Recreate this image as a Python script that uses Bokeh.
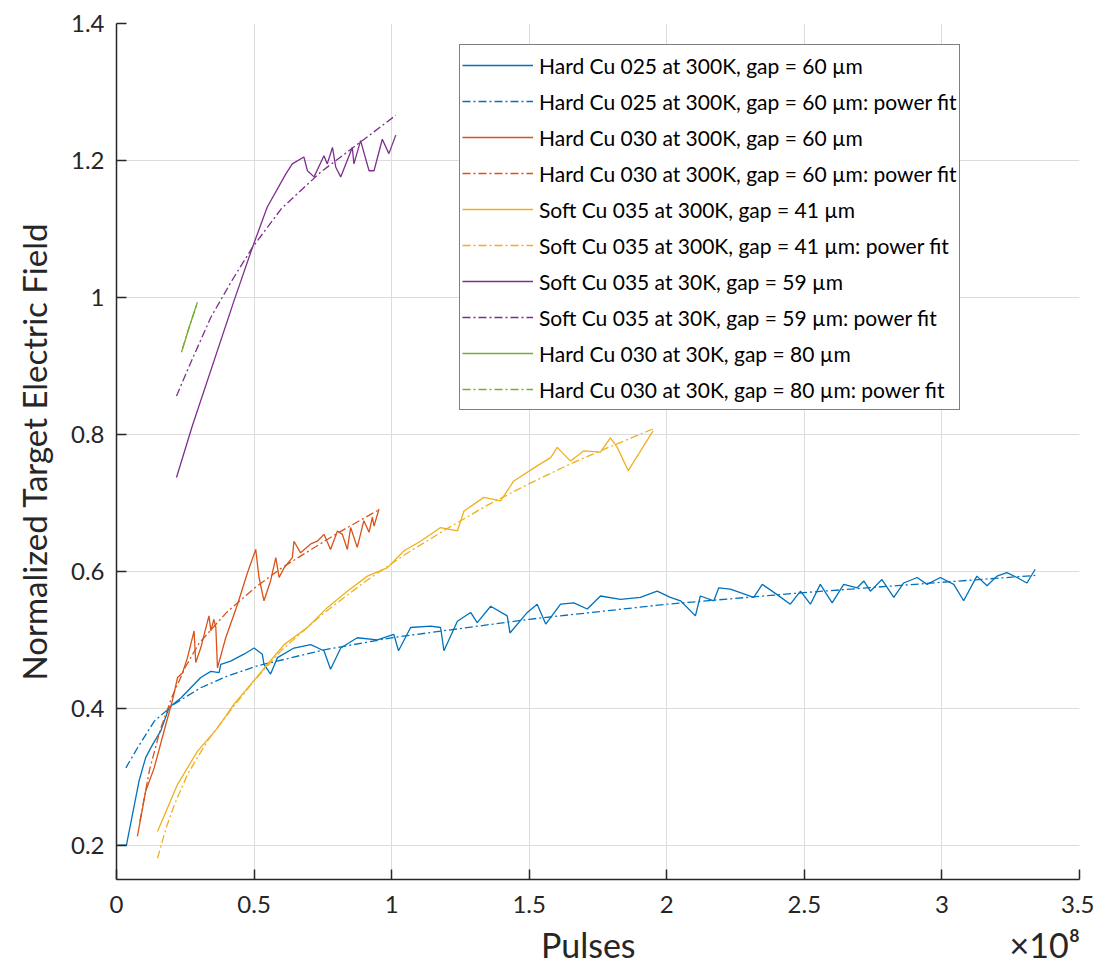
import numpy as np
from bokeh.plotting import figure
from bokeh.models import FixedTicker, CustomJSTickFormatter, Range1d
from bokeh.embed import file_html
from bokeh.resources import INLINE

# ---------------- data (x in units of 1e8 pulses) ----------------
hc025_x = [0.004, 0.036, 0.082, 0.106, 0.131, 0.161, 0.191, 0.234, 0.270, 0.306, 0.343, 0.373, 0.379,
           0.415, 0.463, 0.500, 0.530, 0.536, 0.560, 0.585, 0.645, 0.706, 0.754, 0.778, 0.815, 0.875,
           0.948, 1.008, 1.025, 1.069, 1.142, 1.178, 1.190, 1.239, 1.287, 1.311, 1.360, 1.420, 1.430,
           1.493, 1.529, 1.560, 1.614, 1.662, 1.711, 1.759, 1.832, 1.904, 1.965, 2.013, 2.050, 2.104,
           2.122, 2.171, 2.189, 2.231, 2.316, 2.347, 2.401, 2.449, 2.486, 2.522, 2.558, 2.601, 2.643,
           2.692, 2.716, 2.740, 2.782, 2.825, 2.861, 2.910, 2.946, 2.994, 3.043, 3.079, 3.127, 3.164,
           3.200, 3.236, 3.273, 3.309, 3.339]
hc025_y = [0.200, 0.200, 0.294, 0.328, 0.347, 0.367, 0.401, 0.415, 0.430, 0.445, 0.454, 0.452, 0.464,
           0.469, 0.479, 0.488, 0.479, 0.464, 0.450, 0.474, 0.488, 0.493, 0.484, 0.457, 0.488, 0.503,
           0.500, 0.508, 0.484, 0.518, 0.520, 0.518, 0.484, 0.527, 0.540, 0.525, 0.549, 0.535, 0.510,
           0.540, 0.552, 0.523, 0.552, 0.554, 0.545, 0.564, 0.559, 0.562, 0.571, 0.562, 0.557, 0.535,
           0.564, 0.557, 0.576, 0.574, 0.562, 0.581, 0.566, 0.552, 0.571, 0.552, 0.581, 0.554, 0.581,
           0.576, 0.586, 0.571, 0.588, 0.562, 0.583, 0.591, 0.581, 0.591, 0.581, 0.557, 0.593, 0.579,
           0.593, 0.598, 0.591, 0.583, 0.603]
hc025_fit_x = [0.034, 0.076, 0.137, 0.209, 0.306, 0.403, 0.512, 0.750, 1.000, 1.500, 2.000, 2.500, 3.000, 3.339]
hc025_fit_y = [0.313, 0.342, 0.381, 0.406, 0.430, 0.447, 0.462, 0.485, 0.503, 0.530, 0.552, 0.569, 0.584, 0.594]

hc030_x = [0.076, 0.106, 0.137, 0.179, 0.203, 0.222, 0.240, 0.258, 0.282, 0.288, 0.306, 0.336, 0.343,
           0.354, 0.361, 0.367, 0.397, 0.440, 0.476, 0.506, 0.518, 0.536, 0.560, 0.579, 0.591, 0.609,
           0.639, 0.645, 0.669, 0.706, 0.730, 0.754, 0.778, 0.803, 0.821, 0.839, 0.851, 0.875, 0.899,
           0.918, 0.930, 0.936, 0.954]
hc030_y = [0.213, 0.279, 0.313, 0.376, 0.411, 0.445, 0.452, 0.474, 0.513, 0.467, 0.488, 0.535, 0.513,
           0.530, 0.518, 0.459, 0.503, 0.552, 0.598, 0.632, 0.591, 0.557, 0.586, 0.620, 0.591, 0.605,
           0.620, 0.644, 0.627, 0.640, 0.644, 0.654, 0.632, 0.659, 0.654, 0.632, 0.664, 0.635, 0.674,
           0.657, 0.679, 0.666, 0.691]
hc030_fit_x = [0.085, 0.120, 0.160, 0.200, 0.250, 0.300, 0.400, 0.500, 0.600, 0.700, 0.800, 0.954]
hc030_fit_y = [0.235, 0.310, 0.370, 0.415, 0.460, 0.495, 0.540, 0.575, 0.605, 0.630, 0.655, 0.690]

sc035_x = [0.149, 0.222, 0.294, 0.367, 0.427, 0.488, 0.548, 0.609, 0.694, 0.766, 0.839, 0.912, 0.984,
           1.045, 1.105, 1.178, 1.239, 1.263, 1.335, 1.396, 1.444, 1.529, 1.578, 1.602, 1.650, 1.699,
           1.759, 1.795, 1.820, 1.860, 1.950]
sc035_y = [0.220, 0.289, 0.337, 0.371, 0.406, 0.435, 0.464, 0.493, 0.518, 0.547, 0.571, 0.593, 0.605,
           0.630, 0.644, 0.664, 0.659, 0.688, 0.708, 0.703, 0.732, 0.754, 0.766, 0.781, 0.761, 0.776,
           0.774, 0.795, 0.781, 0.747, 0.805]
sc035_fit_x = [0.149, 0.180, 0.210, 0.260, 0.330, 0.420, 0.500, 0.600, 0.750, 0.900, 1.050, 1.200,
               1.350, 1.500, 1.650, 1.800, 1.950]
sc035_fit_y = [0.181, 0.225, 0.259, 0.305, 0.352, 0.400, 0.440, 0.485, 0.538, 0.584, 0.625, 0.662,
               0.697, 0.728, 0.757, 0.783, 0.808]

sc035c_x = [0.218, 0.276, 0.427, 0.494, 0.548, 0.615, 0.639, 0.681, 0.694, 0.718, 0.754, 0.766, 0.785,
            0.797, 0.815, 0.857, 0.863, 0.887, 0.918, 0.936, 0.966, 0.990, 1.015]
sc035c_y = [0.737, 0.813, 0.995, 1.073, 1.132, 1.180, 1.195, 1.205, 1.185, 1.176, 1.207, 1.195, 1.219,
            1.190, 1.176, 1.219, 1.195, 1.229, 1.185, 1.185, 1.231, 1.210, 1.237]
sc035c_fit_x = [0.218, 0.270, 0.343, 0.420, 0.494, 0.600, 0.742, 0.887, 1.015]
sc035c_fit_y = [0.856, 0.905, 0.971, 1.025, 1.073, 1.130, 1.183, 1.227, 1.266]

hc030c_x = [0.236, 0.264, 0.294]
hc030c_y = [0.920, 0.956, 0.993]
hc030c_fit_x = [0.240, 0.265, 0.292]
hc030c_fit_y = [0.925, 0.958, 0.990]

x_ticks = [0, 0.5, 1, 1.5, 2, 2.5, 3, 3.5]
y_ticks = [0.2, 0.4, 0.6, 0.8, 1.0, 1.2, 1.4]

labels = ["Hard Cu 025 at 300K, gap = 60 \u00b5m",
          "Hard Cu 025 at 300K, gap = 60 \u00b5m: power fit",
          "Hard Cu 030 at 300K, gap = 60 \u00b5m",
          "Hard Cu 030 at 300K, gap = 60 \u00b5m: power fit",
          "Soft Cu 035 at 300K, gap = 41 \u00b5m",
          "Soft Cu 035 at 300K, gap = 41 \u00b5m: power fit",
          "Soft Cu 035 at 30K, gap = 59 \u00b5m",
          "Soft Cu 035 at 30K, gap = 59 \u00b5m: power fit",
          "Hard Cu 030 at 30K, gap = 80 \u00b5m",
          "Hard Cu 030 at 30K, gap = 80 \u00b5m: power fit"]

x_title = "Pulses"
x_multiplier = "\u00d710\u2078"

# ---------------- figure ----------------
FONT = "Lato"
TXT = "#262626"

p = figure(width=1094, height=971, output_backend="svg", toolbar_location=None,
           x_range=Range1d(0, 3.5), y_range=Range1d(0.15, 1.4),
           min_border_left=116, min_border_right=15, min_border_top=23, min_border_bottom=92)
p.outline_line_color = None
p.background_fill_color = "white"
p.border_fill_color = "white"

series = [
    (hc025_x, hc025_y, "#0072BD", "solid"),
    (hc025_fit_x, hc025_fit_y, "#0072BD", "8 3 2 3"),
    (hc030_x, hc030_y, "#D95319", "solid"),
    (hc030_fit_x, hc030_fit_y, "#D95319", "8 3 2 3"),
    (sc035_x, sc035_y, "#EDB120", "solid"),
    (sc035_fit_x, sc035_fit_y, "#EDB120", "8 3 2 3"),
    (sc035c_x, sc035c_y, "#7E2F8E", "solid"),
    (sc035c_fit_x, sc035c_fit_y, "#7E2F8E", "8 3 2 3"),
    (hc030c_x, hc030c_y, "#77AC30", "solid"),
    (hc030c_fit_x, hc030c_fit_y, "#77AC30", "8 3 2 3"),
]
for (xs, ys, col, dash), lab in zip(series, labels):
    p.line(xs, ys, line_color=col, line_width=1.3, line_dash=dash, legend_label=lab)

# axes
fmt = CustomJSTickFormatter(code="return (Math.round(tick*10)/10).toString();")
p.xaxis.ticker = FixedTicker(ticks=x_ticks)
p.yaxis.ticker = FixedTicker(ticks=y_ticks)
p.xaxis.formatter = fmt
p.yaxis.formatter = fmt
for ax in (p.xaxis, p.yaxis):
    ax.axis_line_color = TXT
    ax.axis_line_width = 1.5
    ax.major_tick_line_color = TXT
    ax.major_tick_line_width = 1.5
    ax.major_tick_in = 10
    ax.major_tick_out = 0
    ax.minor_tick_line_color = None
    ax.major_label_text_font = FONT
    ax.major_label_text_font_size = "24px"
    ax.major_label_text_color = TXT
    ax.axis_label_text_font = FONT
    ax.axis_label_text_font_style = "normal"
    ax.axis_label_text_color = TXT

# x title and the x10^8 multiplier share the (centred) bottom axis-label line;
# EN SPACEs (fixed 0.5 em) pad the line so the title sits mid-axis and the
# multiplier at the right end
EN = "\u2002"
p.xaxis.axis_label = EN * 25 + x_title + EN * 22 + x_multiplier
p.yaxis.axis_label = "Normalized Target Electric Field"
p.xaxis.axis_label_text_font_size = "34px"
p.yaxis.axis_label_text_font_size = "33px"
p.xaxis.major_label_standoff = 16
p.yaxis.major_label_standoff = 12
p.xaxis.axis_label_standoff = 8
p.yaxis.axis_label_standoff = 14

p.grid.grid_line_color = "#dcdcdc"
p.grid.grid_line_width = 1

# legend
lg = p.legend[0]
lg.location = (343, 469)
lg.border_line_color = "#000000"
lg.border_line_width = 1
lg.background_fill_color = "white"
lg.background_fill_alpha = 1
lg.label_text_font = FONT
lg.label_text_font_size = "21px"
lg.label_text_color = "#000000"
lg.glyph_width = 71
lg.glyph_height = 36
lg.label_height = 36
lg.label_standoff = 6
lg.spacing = 0
lg.padding = 2
lg.margin = 0

open("out.html", "w").write(file_html(p, INLINE))
